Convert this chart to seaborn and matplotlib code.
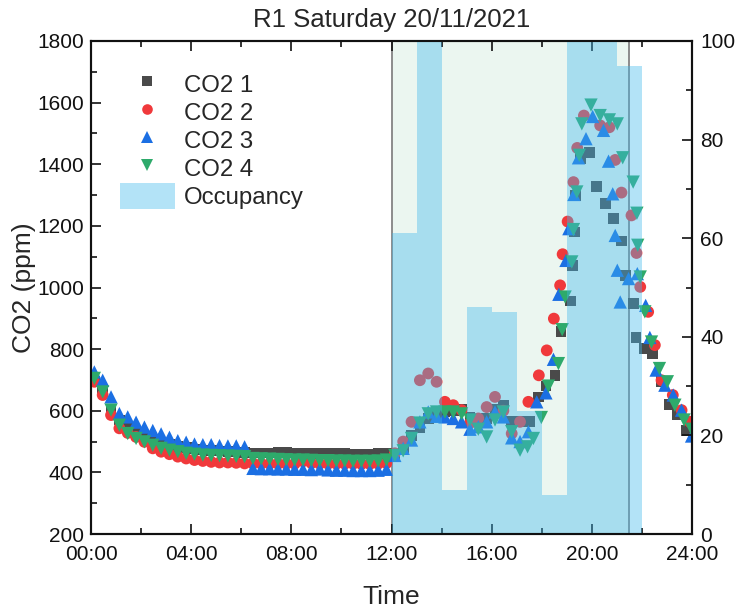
import numpy as np
import pandas as pd
import matplotlib
matplotlib.use("Agg")
import matplotlib.pyplot as plt
import seaborn as sns
from matplotlib.lines import Line2D
from matplotlib.patches import Patch
from matplotlib.ticker import MultipleLocator

# ---------------- data ----------------
# regular 20-minute logging from 00:08 to 17:08
log_times = ["00:08", "00:28", "00:48", "01:08", "01:28", "01:48", "02:08", "02:28", "02:48",
             "03:08", "03:28", "03:48", "04:08", "04:28", "04:48", "05:08", "05:28", "05:48",
             "06:08", "06:28", "06:48", "07:08", "07:28", "07:48", "08:08", "08:28", "08:48",
             "09:08", "09:28", "09:48", "10:08", "10:28", "10:48", "11:08", "11:28", "11:48",
             "12:08", "12:28", "12:48", "13:08", "13:28", "13:48", "14:08", "14:28", "14:48",
             "15:08", "15:28", "15:48", "16:08", "16:28", "16:48", "17:08"]

co2_1_day = [695, 670, 605, 570, 548, 530, 515, 505, 497, 490, 484, 480, 476, 473, 471, 469, 467, 466, 465,
             463, 463, 463, 464, 464, 463, 463, 462, 462, 462, 461, 461, 460, 460, 460, 461, 462,
             450, 480, 520, 545, 575, 590, 598, 600, 605, 580, 565, 575, 605, 618, 566, 564]
co2_2_day = [694, 651, 586, 543, 528, 515, 499, 478, 467, 459, 451, 445, 440, 437, 434, 432, 432, 431, 429,
             429, 428, 428, 428, 428, 428, 436, 430, 428, 428, 428, 428, 428, 427, 427, 428, 430,
             462, 500, 564, 699, 721, 694, 629, 618, 602, 560, 575, 612, 645, 600, 526, 564]
co2_3_day = [726, 699, 645, 591, 580, 563, 547, 536, 525, 514, 503, 498, 492, 490, 490, 487, 486, 486, 483,
             413, 412, 412, 411, 411, 410, 410, 409, 411, 408, 407, 407, 406, 406, 406, 407, 410,
             455, 478, 505, 564, 596, 582, 580, 575, 564, 540, 548, 564, 596, 580, 512, 500]
co2_4_day = [705, 661, 602, 553, 526, 510, 499, 488, 478, 472, 467, 462, 459, 456, 455, 454, 453, 452, 451,
             445, 444, 443, 442, 441, 440, 440, 439, 438, 438, 437, 437, 436, 436, 436, 437, 440,
             455, 470, 510, 560, 590, 596, 596, 596, 590, 570, 540, 515, 570, 596, 532, 472]

# evening readings (denser)
co2_1_eve_t = ["17:32", "17:52", "18:10", "18:32", "18:46", "19:08", "19:14", "19:18", "19:20", "19:32",
               "19:54", "20:12", "20:32", "20:52", "21:11", "21:20", "21:39", "21:46", "22:07", "22:26",
               "22:47", "23:06", "23:26", "23:47"]
co2_1_eve_v = [564, 645, 680, 715, 856, 956, 1072, 1180, 1299, 1418,
               1437, 1329, 1272, 1223, 1151, 1040, 948, 838, 802, 786,
               694, 621, 589, 537]
co2_2_eve_t = ["17:28", "17:53", "18:12", "18:29", "18:44", "18:50", "19:02", "19:16", "19:25", "19:41",
               "20:20", "20:42", "20:56", "21:11", "21:35", "21:47", "21:56", "22:15", "22:31", "22:47",
               "23:14", "23:35", "23:55"]
co2_2_eve_v = [629, 715, 796, 899, 1007, 1108, 1214, 1342, 1453, 1558,
               1526, 1520, 1414, 1308, 1234, 1112, 1002, 921, 813, 699,
               651, 602, 564]
co2_3_eve_t = ["17:28", "17:48", "18:10", "18:28", "18:41", "18:58", "19:05", "19:17", "19:28", "19:46",
               "20:02", "20:28", "20:40", "20:50", "20:56", "21:01", "21:08", "21:28", "21:49", "22:09",
               "22:19", "22:34", "22:55", "23:15", "23:35", "23:59"]
co2_3_eve_v = [532, 629, 658, 767, 978, 1088, 1191, 1302, 1421, 1483,
               1555, 1510, 1410, 1304, 1169, 1056, 953, 1029, 1045, 942,
               838, 732, 683, 651, 602, 518]
co2_4_eve_t = ["17:26", "17:40", "17:59", "18:16", "18:40", "18:49", "18:56", "19:12", "19:16", "19:24",
               "19:30", "19:36", "19:58", "20:20", "20:42", "21:01", "21:14", "21:39", "21:48", "21:50",
               "21:56", "22:07", "22:23", "22:42", "23:01", "23:19", "23:41", "23:59"]
co2_4_eve_v = [483, 510, 578, 680, 753, 863, 969, 1083, 1188, 1310,
               1429, 1531, 1592, 1558, 1544, 1531, 1421, 1342, 1241, 1137,
               1034, 921, 823, 737, 694, 618, 570, 540]

series_names = ["CO2 1", "CO2 2", "CO2 3", "CO2 4"]
occ_hours = [12, 13, 14, 15, 16, 17, 18, 19, 20, 21]
occ_values = [61, 100, 9, 46, 45, 25, 8, 100, 100, 95]
window_start, window_end = 12, 21.5

x_ticks = [0, 4, 8, 12, 16, 20, 24]
x_tick_labels = ["00:00", "04:00", "08:00", "12:00", "16:00", "20:00", "24:00"]

# ---------------- build table ----------------
def to_hours(s):
    h, m = s.split(":")
    return int(h) + int(m) / 60.0

rows = []
day_vals = [co2_1_day, co2_2_day, co2_3_day, co2_4_day]
eve_t = [co2_1_eve_t, co2_2_eve_t, co2_3_eve_t, co2_4_eve_t]
eve_v = [co2_1_eve_v, co2_2_eve_v, co2_3_eve_v, co2_4_eve_v]
for name, dv, et, ev in zip(series_names, day_vals, eve_t, eve_v):
    for t, v in zip(log_times, dv):
        rows.append((name, to_hours(t), v))
    for t, v in zip(et, ev):
        rows.append((name, to_hours(t), v))
df = pd.DataFrame(rows, columns=["series", "time", "co2"])

# ---------------- style ----------------
sns.set_theme(style="white")
plt.rcParams["font.family"] = ["Liberation Sans", "DejaVu Sans"]

colors = {"CO2 1": "#4a4a4a", "CO2 2": "#f0393b", "CO2 3": "#1b6fe3", "CO2 4": "#2eaa6b"}
markers = {"CO2 1": "s", "CO2 2": "o", "CO2 3": "^", "CO2 4": "v"}
sizes = {"CO2 1": 60, "CO2 2": 72, "CO2 3": 92, "CO2 4": 92}
bar_color = "#41b9ed"
bar_alpha = 0.4
mint = "#ebf6f0"
edge_gray = "#8c8c8c"
spine_col = "#111111"

fig = plt.figure(figsize=(7.4, 6.09), dpi=100)
ax = fig.add_axes([91 / 740, 1 - 534 / 609, 601 / 740, 493 / 609])

ax.axvspan(window_start, window_end, facecolor=mint, edgecolor="none", zorder=0)
for xv in (window_start, window_end):
    ax.axvline(xv, color=edge_gray, linewidth=1.4, zorder=0.5)

sns.scatterplot(data=df, x="time", y="co2", hue="series", style="series", size="series",
                palette=colors, markers=markers, sizes=sizes, linewidth=0,
                legend=False, ax=ax, zorder=3)

ax.set_xlim(0, 24)
ax.set_ylim(200, 1800)
ax.set_xticks(x_ticks)
ax.set_xticklabels(x_tick_labels)
ax.xaxis.set_minor_locator(MultipleLocator(2))
ax.yaxis.set_major_locator(MultipleLocator(200))
ax.yaxis.set_minor_locator(MultipleLocator(100))
ax.tick_params(which="both", direction="in", top=True, bottom=True, left=True, right=False,
               colors=spine_col, labelsize=15)
ax.tick_params(axis="x", which="both", pad=8)
ax.tick_params(axis="y", which="both", pad=5)
ax.tick_params(which="major", length=7, width=1.2)
ax.tick_params(which="minor", length=4, width=1.2)
ax.set_xlabel("Time", fontsize=19, labelpad=15)
ax.set_ylabel("CO2 (ppm)", fontsize=19, labelpad=1)
ax.set_title("R1 Saturday 20/11/2021", fontsize=18.5, pad=10)

ax2 = ax.twinx()
ax2.bar(occ_hours, occ_values, width=1.0, align="edge", color=bar_color, alpha=bar_alpha,
        linewidth=0, zorder=2)
ax2.set_ylim(0, 100)
ax2.yaxis.set_major_locator(MultipleLocator(20))
ax2.yaxis.set_minor_locator(MultipleLocator(10))
ax2.tick_params(which="both", direction="in", right=True, left=False, colors=spine_col,
                labelsize=15, pad=6)
ax2.tick_params(which="major", length=7, width=1.2)
ax2.tick_params(which="minor", length=4, width=1.2)
ax2.grid(False)
ax.grid(False)

for a in (ax, ax2):
    for sp in a.spines.values():
        sp.set_color(spine_col)
        sp.set_linewidth(1.5)

handles = [Line2D([], [], marker=markers[n], color=colors[n], linestyle="None",
                  markersize=np.sqrt(sizes[n]) * 0.9, markeredgewidth=0) for n in series_names]
handles.append(Patch(facecolor=bar_color, alpha=bar_alpha, edgecolor="none"))
labels = series_names + ["Occupancy"]
leg = ax2.legend(handles, labels, loc="upper left", bbox_to_anchor=(0.048, 0.94),
                 frameon=False, fontsize=17.3, handlelength=2.3, handleheight=1.3,
                 labelspacing=0.08, handletextpad=0.35, borderaxespad=0, borderpad=0)

fig.savefig("out.png", dpi=100)
